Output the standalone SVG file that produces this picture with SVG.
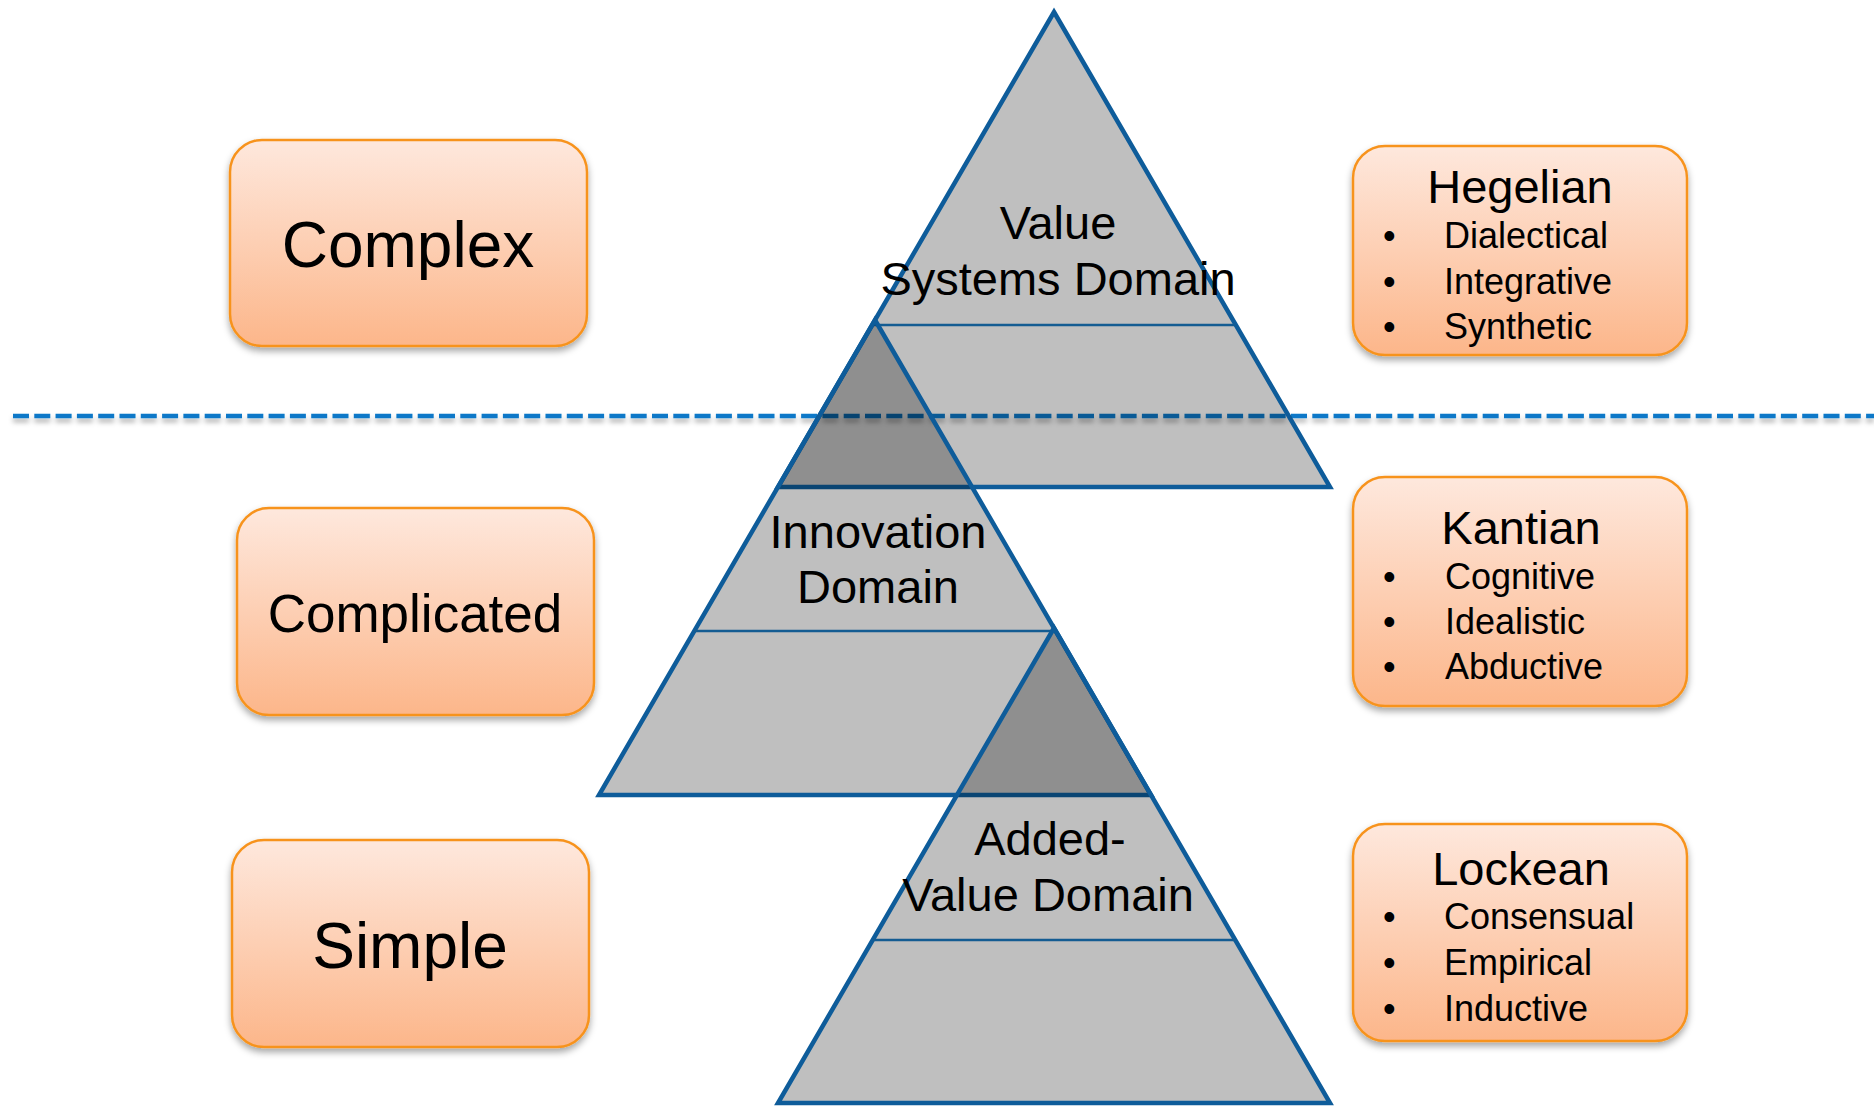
<svg xmlns="http://www.w3.org/2000/svg" width="1874" height="1107" viewBox="0 0 1874 1107">
<defs>
<linearGradient id="boxGrad" x1="0" y1="0" x2="0" y2="1">
<stop offset="0" stop-color="#FEE8DD"/>
<stop offset="1" stop-color="#FCB68A"/>
</linearGradient>
<filter id="shadow" x="-10%" y="-10%" width="120%" height="130%">
<feDropShadow dx="0" dy="4" stdDeviation="3.5" flood-color="#000" flood-opacity="0.35"/>
</filter>
<filter id="lineShadow" filterUnits="userSpaceOnUse" x="0" y="400" width="1874" height="40">
<feDropShadow dx="0" dy="4" stdDeviation="2.5" flood-color="#000" flood-opacity="0.3"/>
</filter>
</defs>
<style>
.box{fill:url(#boxGrad);stroke:#F7931E;stroke-width:2.5;filter:url(#shadow)}
.tri{fill:#000;fill-opacity:0.25;stroke:#0E5C9A;stroke-width:4.5;stroke-linejoin:miter}
.div{stroke:#145C92;stroke-width:2.5}
.big{font-family:"Liberation Sans",Arial,sans-serif;fill:#000;text-anchor:middle}
.lbl{font-family:"Liberation Sans",Arial,sans-serif;font-size:47px;fill:#000;text-anchor:middle}
.title{font-family:"Liberation Sans",Arial,sans-serif;font-size:47px;fill:#000;text-anchor:middle}
.item{font-family:"Liberation Sans",Arial,sans-serif;font-size:36px;fill:#000}
</style>
<rect width="1874" height="1107" fill="#fff"/>

<g id="divider">
<line x1="13" y1="416" x2="1874" y2="416" stroke="#0A78C8" stroke-width="4.5" stroke-dasharray="16 5.3" filter="url(#lineShadow)"/>
</g>

<g id="tri-value-systems">
<polygon class="tri" points="1054,12 1330,487 778,487"/>
<line class="div" x1="873" y1="325" x2="1235" y2="325"/>
<text class="lbl" x="1058" y="239">Value</text>
<text class="lbl" x="1058" y="295">Systems Domain</text>
</g>

<g id="tri-innovation">
<polygon class="tri" points="875,320 1151,795 599,795"/>
<line class="div" x1="694" y1="631" x2="1056" y2="631"/>
<text class="lbl" x="878" y="548">Innovation</text>
<text class="lbl" x="878" y="603">Domain</text>
</g>

<g id="tri-added-value">
<polygon class="tri" points="1054,628 1330,1103 778,1103"/>
<line class="div" x1="873" y1="940" x2="1235" y2="940"/>
<text class="lbl" x="1050" y="855">Added-</text>
<text class="lbl" x="1048" y="911">Value Domain</text>
</g>

<g id="box-complex">
<rect class="box" x="230" y="140" width="357" height="206" rx="32" ry="32"/>
<text class="big" x="408" y="267" font-size="64">Complex</text>
</g>

<g id="box-complicated">
<rect class="box" x="237" y="508" width="357" height="207" rx="32" ry="32"/>
<text class="big" x="415" y="632" font-size="53">Complicated</text>
</g>

<g id="box-simple">
<rect class="box" x="232" y="840" width="357" height="207" rx="32" ry="32"/>
<text class="big" x="410" y="968" font-size="64">Simple</text>
</g>

<g id="box-hegelian">
<rect class="box" x="1353" y="146" width="334" height="209" rx="32" ry="32"/>
<text class="title" x="1520" y="203">Hegelian</text>
<text class="item" x="1383" y="248">•</text><text class="item" x="1444" y="248">Dialectical</text>
<text class="item" x="1383" y="294">•</text><text class="item" x="1444" y="294">Integrative</text>
<text class="item" x="1383" y="339">•</text><text class="item" x="1444" y="339">Synthetic</text>
</g>

<g id="box-kantian">
<rect class="box" x="1353" y="477" width="334" height="229" rx="32" ry="32"/>
<text class="title" x="1521" y="544">Kantian</text>
<text class="item" x="1383" y="589">•</text><text class="item" x="1445" y="589">Cognitive</text>
<text class="item" x="1383" y="634">•</text><text class="item" x="1445" y="634">Idealistic</text>
<text class="item" x="1383" y="679">•</text><text class="item" x="1445" y="679">Abductive</text>
</g>

<g id="box-lockean">
<rect class="box" x="1353" y="824" width="334" height="217" rx="32" ry="32"/>
<text class="title" x="1521" y="885">Lockean</text>
<text class="item" x="1383" y="929">•</text><text class="item" x="1444" y="929">Consensual</text>
<text class="item" x="1383" y="975">•</text><text class="item" x="1444" y="975">Empirical</text>
<text class="item" x="1383" y="1021">•</text><text class="item" x="1444" y="1021">Inductive</text>
</g>
</svg>
